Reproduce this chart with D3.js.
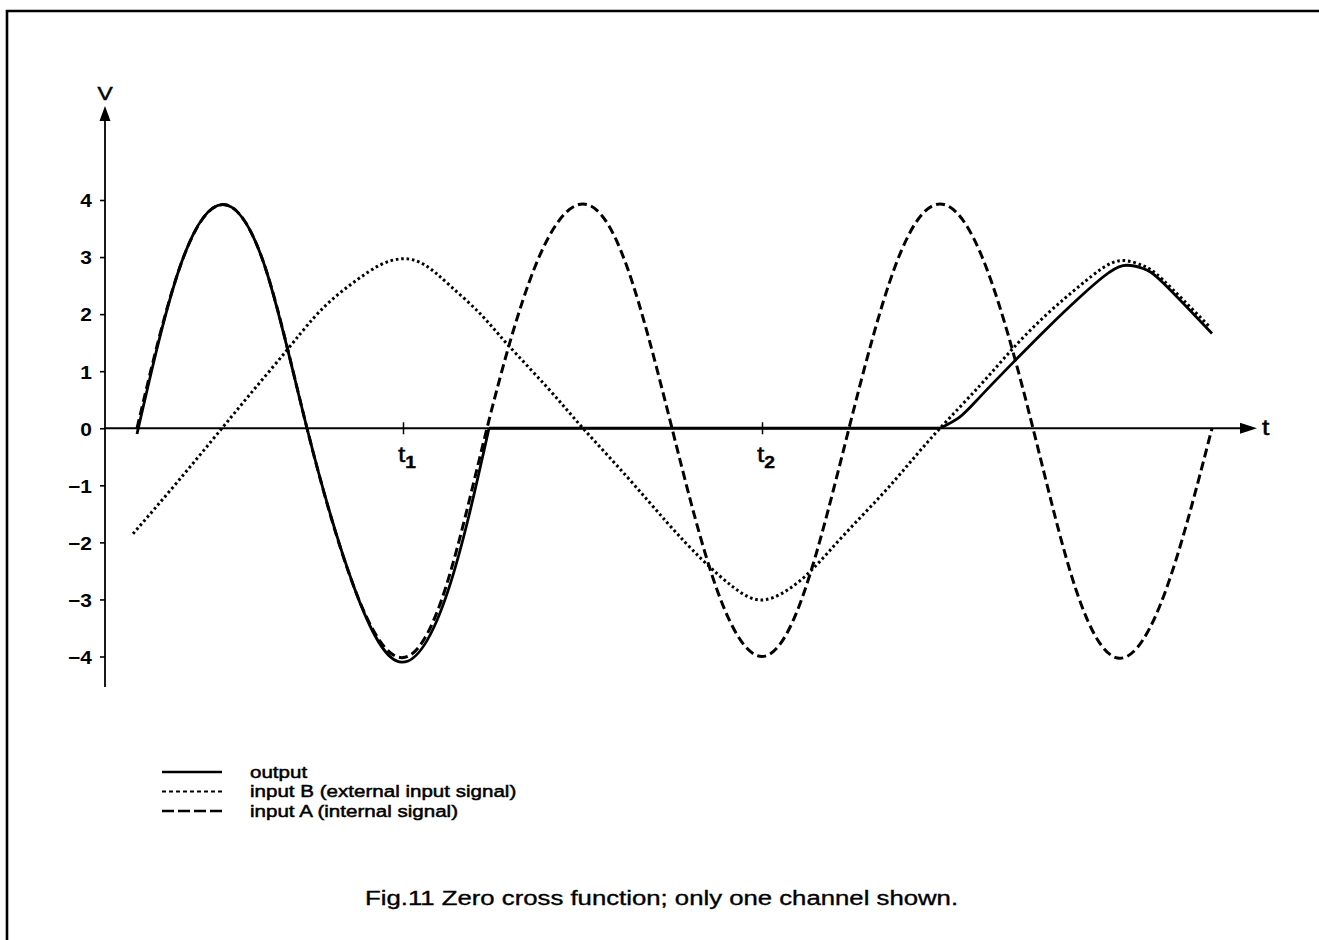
<!DOCTYPE html>
<html>
<head>
<meta charset="utf-8">
<script src="https://cdn.jsdelivr.net/npm/d3@7/dist/d3.min.js"></script>
<style>
  body { margin: 0; background: #fff; }
  svg { display: block; }
  text { font-family: "Liberation Sans", Arial, Helvetica, sans-serif; fill: #000; }
</style>
</head>
<body>
<svg id="chart" width="1319" height="940"></svg>
<script>
// time is in arbitrary units (t1 and t2 are the marked instants)
var tA   = [3.2, 7.5, 11.8, 16.0, 20.2, 25.0, 29.7, 34.0, 38.2, 43.0, 47.8, 52.2, 56.7,
            61.2, 65.7, 70.0, 74.4, 79.0, 83.5, 88.1, 92.8, 97.1, 101.5, 106.1, 110.7];
var vA   = [0, 2.83, 3.92, 2.83, 0, -2.83, -4.02, -2.83, 0, 2.83, 3.93, 2.83, 0,
            -2.83, -4.0, -2.83, 0, 2.83, 3.93, 2.83, 0, -2.83, -4.03, -2.83, 0];

var tB   = [2.8, 7.2, 11.7, 15.0, 18.2, 20.8, 23.0, 25.2, 27.5, 29.8, 32.0, 34.5, 37.5,
            40.2, 44.2, 47.8, 52.2, 56.2, 59.7, 62.8, 65.5, 68.2, 70.8, 74.0, 77.5,
            80.5, 83.5, 87.5, 90.8, 94.2, 97.5, 99.7, 101.7, 103.8, 105.8, 110.5];
var vB   = [-1.85, -0.95, 0, 0.7, 1.37, 1.92, 2.3, 2.6, 2.86, 2.97, 2.86, 2.5, 2.01,
            1.48, 0.72, 0, -0.85, -1.65, -2.3, -2.78, -3.01, -2.84, -2.46, -1.85, -1.2,
            -0.6, 0, 0.75, 1.4, 2.0, 2.5, 2.8, 2.94, 2.85, 2.6, 1.77];

// output: copies input A, holds zero, then follows input B
var tOut = [3.2, 7.5, 11.8, 16.0, 20.2, 25.0, 29.7, 34.3, 38.4, 83.5, 85.5, 87.5, 90.8,
            94.2, 97.5, 99.8, 101.8, 103.8, 105.8, 110.7];
var vOut = [-0.1, 2.83, 3.92, 2.83, 0, -2.83, -4.1, -2.85, 0, 0, 0.2, 0.55, 1.15,
            1.75, 2.3, 2.65, 2.85, 2.8, 2.55, 1.66];

var yTicks = [-4, -3, -2, -1, 0, 1, 2, 3, 4];
var tMarks = [29.8, 65.7];
var tMarkSubs = ['1', '2'];

var legendLabels = ['output', 'input B (external input signal)', 'input A (internal signal)'];
var captionText = 'Fig.11 Zero cross function; only one channel shown.';

var svg = d3.select('#chart');

var x = d3.scaleLinear().domain([0, 115]).range([105, 1255]);
var y = d3.scaleLinear().domain([-4, 4]).range([656.5, 200]);

// frame of the figure (only left and top edges are on the sheet)
svg.append('path')
  .attr('d', 'M7,940 V11 H1319')
  .attr('fill', 'none')
  .attr('stroke', '#000')
  .attr('stroke-width', 2.6);

// stretched text, the scan is wider than the type
function stretched(parent, px, py, str, size, sx, anchor, weight) {
  var g = parent.append('g').attr('transform', 'translate(' + px + ',' + py + ') scale(' + sx + ',1)');
  return g.append('text')
    .attr('text-anchor', anchor || 'start')
    .attr('font-size', size)
    .attr('font-weight', weight || 'normal')
    .text(str);
}

// y axis
var yAxis = d3.axisLeft(y)
  .tickValues(yTicks)
  .tickSize(5)
  .tickFormat(function(d) { return d < 0 ? '\u2212' + (-d) : String(d); });

var gy = svg.append('g').attr('transform', 'translate(' + x(0) + ',0)').call(yAxis);
gy.select('.domain').remove();
gy.selectAll('.tick line').attr('stroke', '#000').attr('stroke-width', 1.6);
gy.selectAll('.tick text')
  .attr('font-size', 19)
  .attr('font-weight', 'bold')
  .attr('font-family', '"Liberation Sans", Arial, sans-serif')
  .attr('x', -12)
  .attr('dy', '0.36em')
  .attr('transform', 'scale(1.1,1)');

svg.append('line')
  .attr('x1', x(0)).attr('x2', x(0))
  .attr('y1', 687).attr('y2', 118)
  .attr('stroke', '#000').attr('stroke-width', 1.8);
svg.append('path')
  .attr('d', 'M' + x(0) + ',106 L' + (x(0) - 5.5) + ',121 L' + (x(0) + 5.5) + ',121 Z')
  .attr('fill', '#000');
stretched(svg, x(0), 100, 'V', 19, 1.2, 'middle')
  .attr('stroke', '#000').attr('stroke-width', 0.5);

// x axis
svg.append('line')
  .attr('x1', x(0)).attr('x2', 1245)
  .attr('y1', y(0)).attr('y2', y(0))
  .attr('stroke', '#000').attr('stroke-width', 2);
svg.append('path')
  .attr('d', 'M1257,' + y(0) + ' L1240,' + (y(0) - 5.5) + ' L1240,' + (y(0) + 5.5) + ' Z')
  .attr('fill', '#000');
stretched(svg, 1262, y(0) + 7, 't', 22, 1.2, 'start')
  .attr('stroke', '#000').attr('stroke-width', 0.5);

var xAxis = d3.axisBottom(x).tickValues(tMarks).tickSize(6).tickFormat('');
var gx = svg.append('g').attr('transform', 'translate(0,' + y(0) + ')').call(xAxis);
gx.select('.domain').remove();
gx.selectAll('.tick line').attr('y1', -6).attr('stroke', '#000').attr('stroke-width', 1.5);

tMarks.forEach(function(tm, i) {
  var g = svg.append('g').attr('transform', 'translate(' + (x(tm) - 5) + ',' + (y(0) + 34) + ') scale(1.2,1)');
  var txt = g.append('text').attr('font-size', 22).attr('stroke', '#000').attr('stroke-width', 0.4);
  txt.append('tspan').text('t');
  txt.append('tspan').attr('font-size', 16).attr('dy', 6).attr('font-weight', 'bold').text(tMarkSubs[i]);
});

// curves
var smooth = d3.line()
  .x(function(d) { return x(d[0]); })
  .y(function(d) { return y(d[1]); })
  .curve(d3.curveNatural);
var straight = d3.line()
  .x(function(d) { return x(d[0]); })
  .y(function(d) { return y(d[1]); });

svg.append('path')
  .datum(d3.zip(tB, vB))
  .attr('d', smooth)
  .attr('fill', 'none')
  .attr('stroke', '#000')
  .attr('stroke-width', 3)
  .attr('stroke-dasharray', '2.6,2.8');

// output drawn in pieces: smooth humps joined by the held zero
var outPts = d3.zip(tOut, vOut);
var holdStart = 8, holdEnd = 9;
var outPieces = [
  { pts: outPts.slice(0, holdStart + 1), gen: smooth },
  { pts: outPts.slice(holdStart, holdEnd + 1), gen: straight },
  { pts: outPts.slice(holdEnd), gen: smooth }
];
outPieces.forEach(function(p) {
  svg.append('path')
    .datum(p.pts)
    .attr('d', p.gen)
    .attr('fill', 'none')
    .attr('stroke', '#000')
    .attr('stroke-width', 2.8)
    .attr('stroke-linejoin', 'round');
});

svg.append('path')
  .datum(d3.zip(tA, vA))
  .attr('d', smooth)
  .attr('fill', 'none')
  .attr('stroke', '#000')
  .attr('stroke-width', 3)
  .attr('stroke-dasharray', '9,4.5');

// legend
var legendStyles = [
  { dash: null, width: 2.4 },
  { dash: '4,3', width: 1.8 },
  { dash: '12,4', width: 2.6 }
];
legendLabels.forEach(function(lbl, i) {
  var ly = 772 + i * 19.5;
  svg.append('line')
    .attr('x1', 162).attr('x2', 222)
    .attr('y1', ly).attr('y2', ly)
    .attr('stroke', '#000')
    .attr('stroke-width', legendStyles[i].width)
    .attr('stroke-dasharray', legendStyles[i].dash);
  stretched(svg, 250, ly + 5.5, lbl, 17, 1.21, 'start')
    .attr('stroke', '#000').attr('stroke-width', 0.5);
});

// caption
stretched(svg, 365, 905, captionText, 19.8, 1.3, 'start')
  .attr('stroke', '#000').attr('stroke-width', 0.35);
</script>
</body>
</html>
